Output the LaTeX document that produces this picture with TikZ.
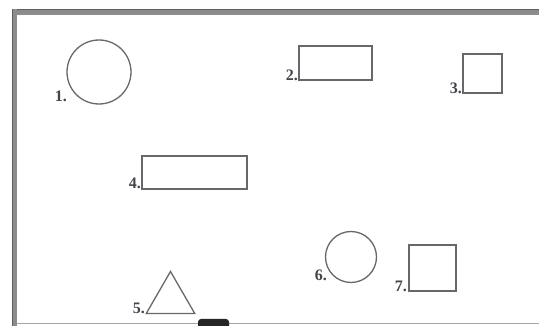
\documentclass[tikz,border=0pt]{standalone}
\usepackage{fontspec}
\setmainfont{Liberation Serif}
\usetikzlibrary{shapes.geometric}
\definecolor{shapeline}{HTML}{686868}
\definecolor{labelcol}{HTML}{44444F}
\definecolor{framegray}{HTML}{8C8C8C}
\definecolor{framedark}{HTML}{5E5E5E}
\begin{document}
\begin{tikzpicture}[x=1pt,y=-1pt,
  shapestyle/.style={draw=shapeline,line width=1.3pt,inner sep=0pt,outer sep=0pt,fill=white},
  boxshape/.style={shapestyle,rectangle},
  roundshape/.style={shapestyle,circle},
  trishape/.style={shapestyle,regular polygon,regular polygon sides=3},
  numlabel/.style={anchor=base east,inner sep=0pt,text=labelcol,font=\fontsize{16}{16}\selectfont\bfseries}]
\useasboundingbox[fill=white] (0,0) rectangle (539,326);
% board frame
\fill[framegray] (12,9) rectangle (539,15);
\draw[framedark,line width=0.8pt] (12,9.4) -- (539,9.4);
\draw[framedark!70,line width=0.6pt] (17,14.6) -- (539,14.6);
\fill[framegray] (12,9) rectangle (17,326);
\draw[framedark,line width=0.8pt] (12.4,9) -- (12.4,326);
\draw[framedark!70,line width=0.6pt] (16.6,15) -- (16.6,326);
\draw[gray!70,line width=0.8pt] (17,323.5) -- (539,323.5);
\fill[black!85,rounded corners=3pt] (198,319) rectangle (229,330);
% shapes
\node[roundshape,minimum size=64pt] (c1) at (99,72) {};
\node[boxshape,minimum width=73pt,minimum height=34pt] (r2) at (335.5,63) {};
\node[boxshape,minimum width=39pt,minimum height=39pt] (r3) at (482.5,73.5) {};
\node[boxshape,minimum width=105pt,minimum height=33pt] (r4) at (194.5,172.5) {};
\node[trishape,minimum size=56pt] (t5) at (170.5,299.5) {};
\node[roundshape,minimum size=51pt] (c6) at (351,257) {};
\node[boxshape,minimum width=47pt,minimum height=46pt] (r7) at (432.5,268) {};
% labels
\node[numlabel] (l1) at (67,102) {1.};
\node[numlabel] (l2) at (298,81) {2.};
\node[numlabel] (l3) at (462,94) {3.};
\node[numlabel] (l4) at (141,189) {4.};
\node[numlabel] (l5) at (145,314) {5.};
\node[numlabel] (l6) at (327,281) {6.};
\node[numlabel] (l7) at (407,292) {7.};
\end{tikzpicture}
\end{document}
